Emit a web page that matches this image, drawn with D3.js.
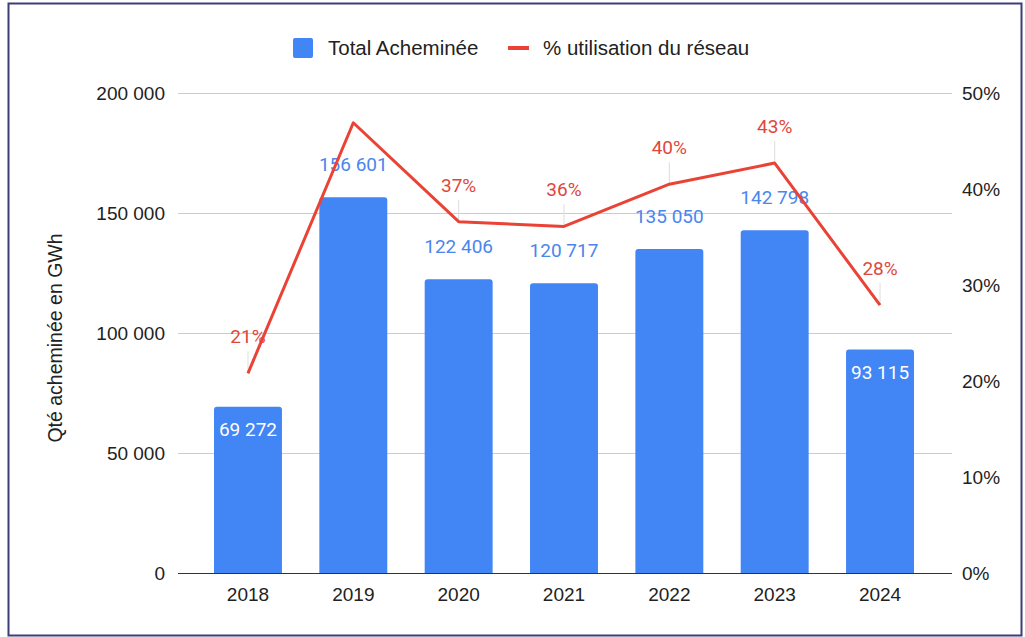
<html>
<head>
<script src="https://d3js.org/d3.v7.min.js"></script>
<style>
body { margin: 0; background: #fff; }
text { font-family: "Liberation Sans", Arial, sans-serif; }
.lbl { font-family: Roboto, sans-serif; }
</style>
</head>
<body>
<svg width="1025" height="637"></svg>
<script>
// data
var years = ["2018", "2019", "2020", "2021", "2022", "2023", "2024"];
var totals = [69272, 156601, 122406, 120717, 135050, 142798, 93115];
var usage = [0.208, 0.469, 0.366, 0.361, 0.405, 0.427, 0.279];
var usageLabels = ["21%", "", "37%", "36%", "40%", "43%", "28%"];
var leftTicks = [0, 50000, 100000, 150000, 200000];
var rightTicks = [0, 0.1, 0.2, 0.3, 0.4, 0.5];
var insideLabel = [true, false, false, false, false, false, true];

var blue = "#4285F4", red = "#EA4335";
var svg = d3.select("svg");

svg.append("rect")
  .attr("x", 8.5).attr("y", 3.5).attr("width", 1013).attr("height", 632)
  .attr("fill", "none").attr("stroke", "#3d3d78").attr("stroke-width", 2);

var plotL = 178, plotR = 952, plotT = 93, plotB = 573;

var x = d3.scaleBand().domain(years).range([214, 914]).paddingInner(0.355).paddingOuter(0);
var y = d3.scaleLinear().domain([0, 200000]).range([plotB, plotT]);
var y2 = d3.scaleLinear().domain([0, 0.5]).range([plotB, plotT]);

var fmt = function(v) { return d3.format(",")(v).replace(/,/g, " "); };

// grid
svg.append("g").selectAll("line").data(leftTicks.slice(1)).enter().append("line")
  .attr("x1", plotL).attr("x2", plotR)
  .attr("y1", function(d) { return y(d) + 0.5; }).attr("y2", function(d) { return y(d) + 0.5; })
  .attr("stroke", "#cccccc").attr("stroke-width", 1);

// left axis
svg.append("g").attr("transform", "translate(" + plotL + ",0)")
  .call(d3.axisLeft(y).tickValues(leftTicks).tickSize(0).tickPadding(13).tickFormat(fmt))
  .call(function(g) { g.select(".domain").remove(); })
  .selectAll("text").attr("font-size", 19).attr("fill", "#222").style("font-family", "Liberation Sans, Arial, sans-serif");

// right axis
svg.append("g").attr("transform", "translate(" + plotR + ",0)")
  .call(d3.axisRight(y2).tickValues(rightTicks).tickSize(0).tickPadding(10).tickFormat(d3.format(".0%")))
  .call(function(g) { g.select(".domain").remove(); })
  .selectAll("text").attr("font-size", 19).attr("fill", "#222").style("font-family", "Liberation Sans, Arial, sans-serif");

// bars
var data = years.map(function(d, i) { return { year: d, total: totals[i], use: usage[i], ul: usageLabels[i], inside: insideLabel[i] }; });

var r = 3;
svg.append("g").selectAll("path").data(data).enter().append("path")
  .attr("fill", blue)
  .attr("d", function(d) {
    var x0 = x(d.year), w = x.bandwidth(), y0 = y(d.total);
    return "M" + x0 + "," + plotB + "V" + (y0 + r) + "Q" + x0 + "," + y0 + " " + (x0 + r) + "," + y0 +
      "H" + (x0 + w - r) + "Q" + (x0 + w) + "," + y0 + " " + (x0 + w) + "," + (y0 + r) + "V" + plotB + "Z";
  });

// baseline
svg.append("line").attr("x1", plotL).attr("x2", plotR).attr("y1", plotB + 0.5).attr("y2", plotB + 0.5)
  .attr("stroke", "#333").attr("stroke-width", 1.2);

// x labels
svg.append("g").attr("transform", "translate(0," + plotB + ")")
  .call(d3.axisBottom(x).tickSize(0).tickPadding(15))
  .call(function(g) { g.select(".domain").remove(); })
  .selectAll("text").attr("font-size", 19).attr("fill", "#222").style("font-family", "Liberation Sans, Arial, sans-serif");

// bar labels
svg.append("g").selectAll("text").data(data).enter().append("text")
  .attr("class", "lbl")
  .attr("x", function(d) { return x(d.year) + x.bandwidth() / 2; })
  .attr("y", function(d) { return d.inside ? y(d.total) + 29 : y(d.total) - 26; })
  .attr("text-anchor", "middle").attr("font-size", 19)
  .attr("fill", function(d) { return d.inside ? "#fff" : "#4a86ee"; })
  .text(function(d) { return fmt(d.total); });

// leader lines
svg.append("g").selectAll("line").data(data.filter(function(d) { return d.ul; })).enter().append("line")
  .attr("x1", function(d) { return x(d.year) + x.bandwidth() / 2; })
  .attr("x2", function(d) { return x(d.year) + x.bandwidth() / 2; })
  .attr("y1", function(d) { return y2(d.use); })
  .attr("y2", function(d) { return y2(d.use) - 22; })
  .attr("stroke", "#dddddd").attr("stroke-width", 1);

svg.append("g").selectAll("text").data(data.filter(function(d) { return d.ul; })).enter().append("text")
  .attr("class", "lbl")
  .attr("x", function(d) { return x(d.year) + x.bandwidth() / 2; })
  .attr("y", function(d) { return y2(d.use) - 30; })
  .attr("text-anchor", "middle").attr("font-size", 19)
  .attr("fill", "#e0473c")
  .text(function(d) { return d.ul; });

// line
var line = d3.line()
  .x(function(d) { return x(d.year) + x.bandwidth() / 2; })
  .y(function(d) { return y2(d.use); });

svg.append("path").datum(data)
  .attr("fill", "none").attr("stroke", red).attr("stroke-width", 3).attr("stroke-linejoin", "round")
  .attr("d", line);

// y title
svg.append("text")
  .attr("transform", "translate(62,338) rotate(-90)")
  .attr("text-anchor", "middle").attr("font-size", 19.5).attr("fill", "#222")
  .text("Qté acheminée en GWh");

// legend
var lg = svg.append("g");
lg.append("rect").attr("x", 293).attr("y", 38).attr("width", 20).attr("height", 20).attr("rx", 2).attr("fill", blue);
lg.append("text").attr("x", 328).attr("y", 55).attr("font-size", 20.5).attr("fill", "#222").text("Total Acheminée");
lg.append("line").attr("x1", 508).attr("x2", 529).attr("y1", 48).attr("y2", 48).attr("stroke", red).attr("stroke-width", 4);
lg.append("text").attr("x", 543).attr("y", 55).attr("font-size", 20.5).attr("fill", "#222").text("% utilisation du réseau");
</script>
</body>
</html>
